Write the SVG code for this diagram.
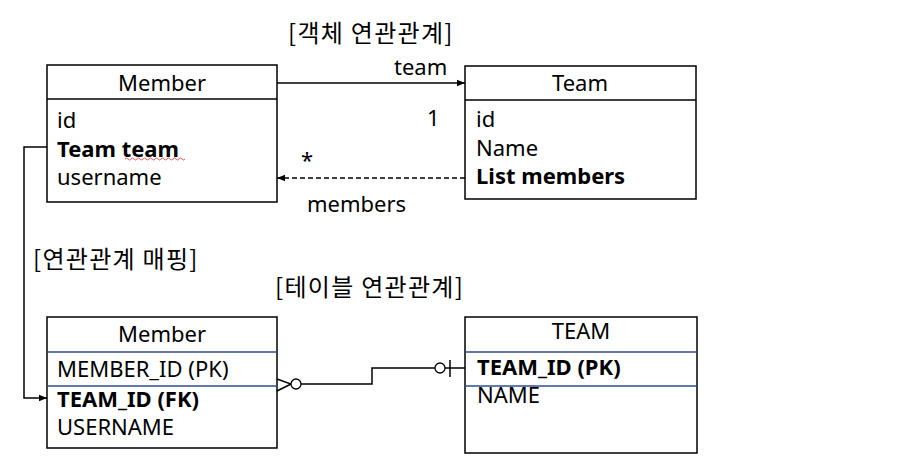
<svg xmlns="http://www.w3.org/2000/svg" width="899" height="470" viewBox="0 0 899 470">
<defs>
<style>
.box{fill:#fff;stroke:#000;stroke-width:1.5}
.sep{stroke:#000;stroke-width:1.5}
.bsep{stroke:#2E4E8F;stroke-width:1.3}
.t{font-family:"Noto Sans","Noto Sans CJK KR",sans-serif;font-size:22px;fill:#000}
.b{font-weight:bold}
.k{font-family:"Noto Sans CJK KR","Noto Sans",sans-serif;font-size:24px;fill:#000;letter-spacing:1.3px}
.ln{fill:none;stroke:#000;stroke-width:1.5}
</style>
<marker id="ah" viewBox="0 0 10 10" refX="10" refY="5" markerWidth="8" markerHeight="8" markerUnits="userSpaceOnUse" orient="auto">
<path d="M0,1 L10,5 L0,9 Z" fill="#000"/>
</marker>
</defs>
<rect width="899" height="470" fill="#fff"/>

<text class="k" x="288" y="42">[객체 연관관계]</text>
<text class="k" x="33" y="268">[연관관계 매핑]</text>
<text class="k" x="275" y="296">[테이블 연관관계]</text>

<g id="member-obj">
<rect class="box" x="47" y="65" width="230" height="137"/>
<line class="sep" x1="47" y1="99" x2="277" y2="99"/>
<text class="t" x="162" y="91" text-anchor="middle">Member</text>
<text class="t" x="57" y="128">id</text>
<text class="t b" x="57" y="157">Team team</text>
<path d="M125,159 q1.5,-2 3,0 t3,0 t3,0 t3,0 t3,0 t3,0 t3,0 t3,0 t3,0 t3,0 t3,0 t3,0 t3,0 t3,0 t3,0 t3,0 t3,0 t3,0 t3,0 t3,0" fill="none" stroke="#e03030" stroke-width="0.8"/>
<text class="t" x="57" y="185">username</text>
</g>

<g id="team-obj">
<rect class="box" x="465" y="66" width="231" height="133"/>
<line class="sep" x1="465" y1="100" x2="696" y2="100"/>
<text class="t" x="580" y="91" text-anchor="middle">Team</text>
<text class="t" x="476" y="127">id</text>
<text class="t" x="476" y="156">Name</text>
<text class="t b" x="476" y="184">List members</text>
</g>

<g id="member-table">
<rect class="box" x="47" y="317" width="230" height="131"/>
<line class="bsep" x1="47" y1="352" x2="277" y2="352"/>
<line class="bsep" x1="47" y1="386" x2="277" y2="386"/>
<text class="t" x="162" y="342" text-anchor="middle">Member</text>
<text class="t" x="57" y="377">MEMBER_ID (PK)</text>
<text class="t b" x="57" y="407">TEAM_ID (FK)</text>
<text class="t" x="57" y="435">USERNAME</text>
</g>

<g id="team-table">
<rect class="box" x="465" y="317" width="232" height="136"/>
<line class="bsep" x1="465" y1="352" x2="697" y2="352"/>
<line class="bsep" x1="465" y1="386" x2="697" y2="386"/>
<text class="t" x="581" y="339" text-anchor="middle">TEAM</text>
<text class="t b" x="477" y="375">TEAM_ID (PK)</text>
<text class="t" x="477" y="403">NAME</text>
</g>

<g id="connectors">
<line class="ln" x1="277" y1="83" x2="465" y2="83" marker-end="url(#ah)"/>
<text class="t" x="394" y="75">team</text>
<text class="t" x="427" y="126">1</text>
<text class="t" x="301" y="168">*</text>
<line class="ln" x1="465" y1="178" x2="277" y2="178" stroke-dasharray="5,3" stroke="#333" marker-end="url(#ah)"/>
<text class="t" x="307" y="212">members</text>
<path class="ln" d="M47,147 H24 V398 H47" marker-end="url(#ah)"/>
<path class="ln" d="M277,379 L291,384 L277,391"/>
<circle cx="296" cy="384" r="5" fill="#fff" stroke="#000" stroke-width="1.3"/>
<path class="ln" d="M301,384 H372 V368 H435"/>
<circle cx="440" cy="368" r="5" fill="#fff" stroke="#000" stroke-width="1.3"/>
<line class="ln" x1="445" y1="368" x2="465" y2="368"/>
<line class="ln" x1="450" y1="360" x2="450" y2="377"/>
</g>
</svg>
